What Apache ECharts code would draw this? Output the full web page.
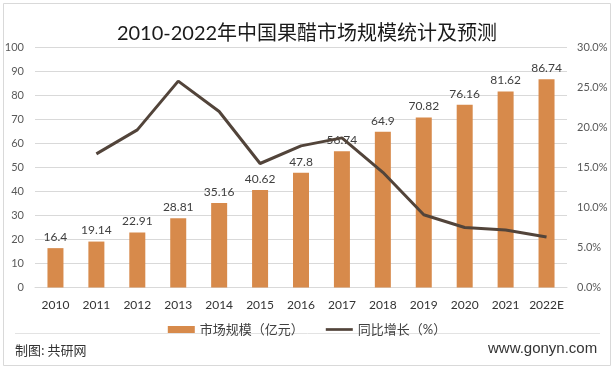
<!DOCTYPE html>
<html>
<head>
<meta charset="utf-8">
<script src="https://cdn.jsdelivr.net/npm/echarts@6/dist/echarts.min.js"></script>
<style>html,body{margin:0;padding:0;background:#fff;}#c{width:614px;height:370px;}</style>
</head>
<body>
<div id="c"></div>
<script>
var categories = ['2010','2011','2012','2013','2014','2015','2016','2017','2018','2019','2020','2021','2022E'];
var marketSize = [16.4,19.14,22.91,28.81,35.16,40.62,47.8,56.74,64.9,70.82,76.16,81.62,86.74];
var growthPct = [null,16.7,19.7,25.8,22.0,15.5,17.7,18.7,14.4,9.1,7.5,7.2,6.3];
var leftTicks = {min:0, max:100, interval:10};
var rightTicks = {min:0, max:30, interval:5};

var NUM = 'Lato, "Noto Sans CJK SC", sans-serif';
var chart = echarts.init(document.getElementById('c'), null, {renderer:'canvas'});
chart.setOption({
  backgroundColor:'#fff',
  animation:false,
  title:{
    text:'2010-2022年中国果醋市场规模统计及预测',
    left:'center', top:19,
    textStyle:{fontFamily:NUM, fontSize:20, fontWeight:'normal', color:'#1a1a1a'}
  },
  grid:{left:35, right:47, top:47.5, bottom:82.5, containLabel:false},
  legend:{
    top:318, left:'center', itemGap:22, itemWidth:27, itemHeight:7,
    textStyle:{fontFamily:NUM, fontSize:13, color:'#404040'},
    data:[
      {name:'市场规模（亿元）', icon:'rect'},
      {name:'同比增长（%）', icon:'path://M0 0H30V3H0Z'}
    ]
  },
  xAxis:{
    type:'category', data:categories,
    axisTick:{show:false},
    axisLine:{show:true, lineStyle:{color:'#d9d9d9'}},
    axisLabel:{interval:0, fontFamily:NUM, fontSize:12, color:'#333', margin:12}
  },
  yAxis:[{
    type:'value', min:leftTicks.min, max:leftTicks.max, interval:leftTicks.interval,
    axisLine:{show:false}, axisTick:{show:false},
    splitLine:{lineStyle:{color:'#d9d9d9'}},
    axisLabel:{fontFamily:NUM, fontSize:11, color:'#595959', margin:11}
  },{
    type:'value', min:rightTicks.min, max:rightTicks.max, interval:rightTicks.interval,
    axisLine:{show:false}, axisTick:{show:false}, splitLine:{show:false},
    axisLabel:{fontFamily:NUM, fontSize:11, color:'#595959', margin:10,
      formatter:function(v){return v.toFixed(1)+'%';}}
  }],
  series:[{
    name:'市场规模（亿元）', type:'bar', data:marketSize, barWidth:16,
    itemStyle:{color:'#D78A4B'},
    label:{show:true, position:'top', distance:5, fontFamily:NUM, fontSize:12, color:'#404040'}
  },{
    name:'同比增长（%）', type:'line', yAxisIndex:1, data:growthPct,
    symbol:'none', connectNulls:false,
    lineStyle:{color:'#52443A', width:3},
    itemStyle:{color:'#52443A'}
  }],
  graphic:[
    {type:'rect', shape:{x:3.5, y:3.5, width:607, height:362}, style:{fill:null, stroke:'#d9d9d9', lineWidth:1}, silent:true, z:-1},
    {type:'line', shape:{x1:15, y1:333.5, x2:600, y2:333.5}, style:{stroke:'#e3e3e3', lineWidth:1}, silent:true},
    {type:'text', left:15, top:344, style:{text:'制图: 共研网', font:'13px "Noto Sans CJK SC"', fill:'#333'}},
    {type:'text', left:488, top:341, style:{text:'www.gonyn.com', font:'15px "Liberation Sans"', fill:'#333'}}
  ]
});
</script>
</body>
</html>
